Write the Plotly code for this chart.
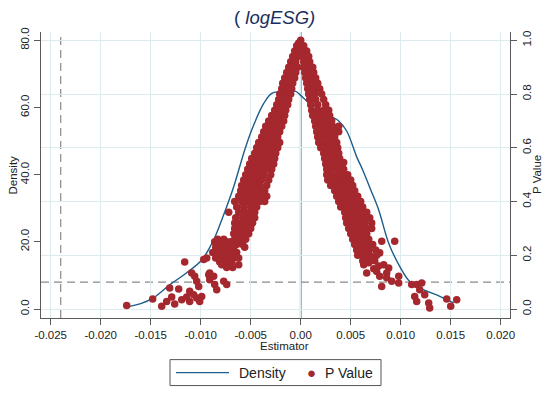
import plotly.graph_objects as go

# ---------------- data ----------------
dens_x = [-0.0171, -0.0160, -0.0147, -0.0131, -0.0114, -0.0099, -0.0087, -0.0079,
          -0.0067, -0.0057, -0.0049, -0.0037, -0.0029, -0.0021, -0.0012, -0.0005,
          0.0000, 0.0009, 0.0016, 0.0024, 0.0031, 0.0038, 0.0046, 0.0056, 0.0062,
          0.0070, 0.0078, 0.0088, 0.0099, 0.0109, 0.0123, 0.0136, 0.0146, 0.0153]
dens_y = [0.8, 1.6, 3.4, 7.2, 10.8, 14.6, 20.6, 26.5,
          36.4, 46.4, 53.3, 61.2, 64.2, 64.7, 64.9, 64.8,
          63.6, 61.2, 60.0, 58.5, 57.2, 56.0, 53.0, 45.3, 41.4,
          35.5, 29.5, 19.6, 12.7, 8.2, 5.7, 4.2, 2.8, 1.8]

# P value points, grouped by P level: (p, [estimates])
left_band = [
    (1.00, [0.0000]),
    (0.99, [-0.0002]),
    (0.98, [-0.0004, 0.0000]),
    (0.96, [-0.0006, -0.0002]),
    (0.94, [-0.0008, -0.0003]),
    (0.92, [-0.0010, -0.0005]),
    (0.90, [-0.0012, -0.0007, -0.0003]),
    (0.88, [-0.0014, -0.0009, -0.0005]),
    (0.86, [-0.0016, -0.0011, -0.0006]),
    (0.84, [-0.0018, -0.0013, -0.0008]),
    (0.82, [-0.0019, -0.0014, -0.0009]),
    (0.80, [-0.0021, -0.0016, -0.0010]),
    (0.78, [-0.0022, -0.0017, -0.0012]),
    (0.76, [-0.0024, -0.0019, -0.0013]),
    (0.74, [-0.0026, -0.0021, -0.0015]),
    (0.72, [-0.0029, -0.0024, -0.0019, -0.0016]),
    (0.70, [-0.0032, -0.0027, -0.0022, -0.0017]),
    (0.68, [-0.0035, -0.0030, -0.0025, -0.0019]),
    (0.66, [-0.0037, -0.0032, -0.0027, -0.0021]),
    (0.64, [-0.0039, -0.0034, -0.0029, -0.0023]),
    (0.62, [-0.0042, -0.0037, -0.0032, -0.0026, -0.0021]),
    (0.60, [-0.0044, -0.0039, -0.0034, -0.0028, -0.0023]),
    (0.58, [-0.0046, -0.0041, -0.0036, -0.0030, -0.0025]),
    (0.56, [-0.0049, -0.0043, -0.0037, -0.0031, -0.0026]),
    (0.54, [-0.0051, -0.0045, -0.0039, -0.0033, -0.0027]),
    (0.52, [-0.0053, -0.0047, -0.0041, -0.0035, -0.0029]),
    (0.50, [-0.0055, -0.0049, -0.0043, -0.0037, -0.0030]),
    (0.48, [-0.0057, -0.0051, -0.0045, -0.0039, -0.0032]),
    (0.46, [-0.0059, -0.0053, -0.0047, -0.0041, -0.0034]),
    (0.44, [-0.0060, -0.0054, -0.0048, -0.0042, -0.0036]),
    (0.42, [-0.0062, -0.0056, -0.0050, -0.0044, -0.0038, -0.0034]),
    (0.40, [-0.0066, -0.0059, -0.0053, -0.0047, -0.0041, -0.0036]),
    (0.38, [-0.0064, -0.0057, -0.0050, -0.0044]),
    (0.36, [-0.0072, -0.0062, -0.0056, -0.0051, -0.0046]),
    (0.34, [-0.0065, -0.0058, -0.0052, -0.0046]),
    (0.32, [-0.0066, -0.0060, -0.0054, -0.0048]),
    (0.30, [-0.0066, -0.0061, -0.0056, -0.0050]),
    (0.28, [-0.0067, -0.0062, -0.0057, -0.0052]),
    (0.26, [-0.0083, -0.0077, -0.0066, -0.0060, -0.0055]),
    (0.25, [-0.0086, -0.0080, -0.0074, -0.0070]),
    (0.24, [-0.0064, -0.0058]),
    (0.23, [-0.0085, -0.0079, -0.0073, -0.0067, -0.0056]),
    (0.21, [-0.0088, -0.0082, -0.0076, -0.0070, -0.0064]),
    (0.19, [-0.0094, -0.0085, -0.0079, -0.0073, -0.0067, -0.0062]),
    (0.184, [-0.0097]),
    (0.175, [-0.0116, -0.0081, -0.0075, -0.0069]),
    (0.165, [-0.0079, -0.0071, -0.0062]),
    (0.155, [-0.0074, -0.0068]),
]

right_band = [
    (0.98, [0.0003]),
    (0.96, [0.0001, 0.0006]),
    (0.94, [0.0002, 0.0008]),
    (0.92, [0.0003, 0.0009]),
    (0.90, [0.0003, 0.0008, 0.0012]),
    (0.88, [0.0004, 0.0009, 0.0013]),
    (0.86, [0.0005, 0.0010, 0.0015]),
    (0.84, [0.0006, 0.0011, 0.0017]),
    (0.82, [0.0007, 0.0013, 0.0019]),
    (0.80, [0.0008, 0.0014, 0.0021]),
    (0.78, [0.0009, 0.0015, 0.0023]),
    (0.76, [0.0010, 0.0017, 0.0025]),
    (0.74, [0.0011, 0.0017, 0.0023, 0.0028]),
    (0.72, [0.0012, 0.0018, 0.0024, 0.0029]),
    (0.70, [0.0014, 0.0020, 0.0026, 0.0031]),
    (0.68, [0.0015, 0.0021, 0.0027, 0.0032, 0.0038]),
    (0.66, [0.0016, 0.0022, 0.0028, 0.0033, 0.0038]),
    (0.64, [0.0017, 0.0023, 0.0029, 0.0034]),
    (0.62, [0.0018, 0.0024, 0.0030, 0.0036]),
    (0.60, [0.0020, 0.0026, 0.0032, 0.0037]),
    (0.58, [0.0023, 0.0028, 0.0033, 0.0038]),
    (0.56, [0.0024, 0.0029, 0.0034, 0.0039]),
    (0.545, [0.0043]),
    (0.54, [0.0025, 0.0030, 0.0035, 0.0040]),
    (0.52, [0.0026, 0.0031, 0.0037, 0.0043]),
    (0.50, [0.0026, 0.0031, 0.0037, 0.0042, 0.0047]),
    (0.48, [0.0027, 0.0033, 0.0039, 0.0045, 0.0050]),
    (0.46, [0.0030, 0.0036, 0.0041, 0.0047, 0.0052]),
    (0.44, [0.0034, 0.0039, 0.0044, 0.0049, 0.0054]),
    (0.42, [0.0036, 0.0041, 0.0047, 0.0052, 0.0057]),
    (0.40, [0.0038, 0.0043, 0.0049, 0.0055, 0.0060]),
    (0.38, [0.0040, 0.0046, 0.0051, 0.0057, 0.0062]),
    (0.36, [0.0044, 0.0049, 0.0055, 0.0060, 0.0066]),
    (0.34, [0.0045, 0.0051, 0.0057, 0.0063, 0.0069]),
    (0.32, [0.0046, 0.0052, 0.0058, 0.0064, 0.0071]),
    (0.30, [0.0048, 0.0054, 0.0060, 0.0066, 0.0071]),
    (0.28, [0.0050, 0.0056, 0.0061, 0.0066]),
    (0.26, [0.0052, 0.0058, 0.0063, 0.0068]),
    (0.252, [0.0081, 0.0094]),
    (0.24, [0.0054, 0.0060, 0.0066, 0.0072]),
    (0.22, [0.0056, 0.0062, 0.0068, 0.0075]),
    (0.209, [0.0079]),
    (0.20, [0.0057, 0.0063, 0.0069, 0.0076]),
    (0.18, [0.0062, 0.0068, 0.0074]),
]

tail_est = [-0.0174, -0.0148, -0.0139, -0.0131, -0.0122, -0.0134, -0.0129, -0.0126,
            -0.0119, -0.0114, -0.0111, -0.0109, -0.0106, -0.0104, -0.0102, -0.0107,
            -0.0104, -0.0111, -0.0099, -0.0101, -0.0092, -0.0091, -0.0087, -0.0086,
            -0.0084, -0.0091, -0.0077, -0.0074,
            0.0063, 0.0068, 0.0071, 0.0066, 0.0076, 0.0083, 0.0088, 0.0086,
            0.0079, 0.0081, 0.0091, 0.0098, 0.0098, 0.0086, 0.0111, 0.0116,
            0.0121, 0.0119, 0.0114, 0.0116, 0.0124, 0.0128, 0.0129, 0.0146,
            0.0156, 0.0150, 0.0073, 0.0078]
tail_p = [0.013, 0.037, 0.010, 0.078, 0.075, 0.028, 0.045, 0.019,
          0.035, 0.045, 0.066, 0.134, 0.122, 0.103, 0.084, 0.053,
          0.041, 0.028, 0.047, 0.028, 0.128, 0.109, 0.122, 0.091,
          0.072, 0.134, 0.103, 0.091,
          0.165, 0.172, 0.190, 0.134, 0.140, 0.165, 0.153, 0.134,
          0.122, 0.084, 0.103, 0.122, 0.097, 0.116, 0.091, 0.091,
          0.097, 0.072, 0.047, 0.028, 0.053, 0.022, 0.004, 0.037,
          0.035, 0.010, 0.150, 0.160]

x_ticks = [-0.025, -0.020, -0.015, -0.010, -0.005, 0.0, 0.005, 0.010, 0.015, 0.020]
x_ticktext = ["-0.025", "-0.020", "-0.015", "-0.010", "-0.005", "0.00",
              "0.005", "0.010", "0.015", "0.020"]
y_ticks = [0, 20, 40, 60, 80]
y_ticktext = ["0.0", "20.0", "40.0", "60.0", "80.0"]
p_ticks = [0.0, 0.2, 0.4, 0.6, 0.8, 1.0]
p_ticktext = ["0.0", "0.2", "0.4", "0.6", "0.8", "1.0"]

x_ref_line = -0.024
p_ref_line = 0.1

# ---------------- build ----------------
pv_est, pv_p = [], []
for p, ests in left_band + right_band:
    for e in ests:
        pv_est.append(e)
        pv_p.append(p)
pv_est += tail_est
pv_p += tail_p

FONT = "Liberation Sans, Arial, Helvetica, sans-serif"
RED = "#a5282e"
BLUE = "#1c5d8c"
AXC = "#5a5a5a"
GRID = "#dcebee"

# plot area in pixels
L, R, T, B = 41, 510, 31.7, 318.3
W, H = 550, 394


def px(x):
    return (x - L) / (R - L)


def py(y):
    return (B - y) / (B - T)


fig = go.Figure()
fig.add_trace(go.Scatter(x=dens_x, y=dens_y, mode="lines", yaxis="y",
                         line=dict(color=BLUE, width=1.4, shape="spline", smoothing=1.0),
                         name="Density", showlegend=False, hoverinfo="skip"))
fig.add_trace(go.Scatter(x=pv_est, y=pv_p, mode="markers", yaxis="y2",
                         marker=dict(color=RED, size=7.5, line=dict(width=0)),
                         name="P Value", showlegend=False))

ymin, ymax = -2.67, 82.47
fig.update_layout(
    width=W, height=H,
    margin=dict(l=L, r=W - R, t=T, b=H - B, pad=0, autoexpand=False),
    paper_bgcolor="white", plot_bgcolor="white",
    font=dict(family=FONT, size=11, color="#222"),
    xaxis=dict(range=[-0.02597, 0.02093], tickvals=x_ticks, ticktext=x_ticktext,
               showgrid=True, gridcolor=GRID, gridwidth=1, zeroline=False,
               showline=True, linecolor=AXC, linewidth=1.2, automargin=False,
               ticks="outside", ticklen=6, tickcolor=AXC, tickwidth=1.2,
               tickfont=dict(size=11.5, color="#222")),
    yaxis=dict(range=[ymin, ymax], tickvals=y_ticks, ticktext=y_ticktext,
               showgrid=False, zeroline=False, showline=True, linecolor=AXC,
               linewidth=1.2, ticks="outside", ticklen=6, tickcolor=AXC, tickwidth=1.2,
               tickangle=-90, tickfont=dict(size=11.5, color="#222"), automargin=False),
    yaxis2=dict(range=[ymin / 80, ymax / 80], tickvals=p_ticks, ticktext=p_ticktext,
                overlaying="y", side="right", showgrid=True, gridcolor=GRID, gridwidth=1,
                zeroline=False, showline=True, linecolor=AXC, linewidth=1.2,
                ticks="outside", ticklen=6, tickcolor=AXC, tickwidth=1.2, automargin=False,
                tickangle=-90, tickfont=dict(size=11.5, color="#222")),
)

shapes = [
    # zero line
    dict(type="line", xref="x", yref="paper", x0=0, x1=0, y0=0, y1=1,
         line=dict(color="#666666", width=1.6), layer="between"),
    # reference dashed lines
    dict(type="line", xref="x", yref="paper", x0=x_ref_line, x1=x_ref_line, y0=0, y1=1,
         line=dict(color="#8a8a8a", width=1.2, dash="8px,5px"), layer="between"),
    dict(type="line", xref="paper", yref="y2", x0=0, x1=1, y0=p_ref_line, y1=p_ref_line,
         line=dict(color="#8a8a8a", width=1.2, dash="8px,5px"), layer="between"),
    # legend box
    dict(type="rect", xref="paper", yref="paper", x0=px(170), x1=px(381),
         y0=py(386), y1=py(360), line=dict(color="#555", width=1), fillcolor="white"),
    dict(type="line", xref="paper", yref="paper", x0=px(176), x1=px(229),
         y0=py(373), y1=py(373), line=dict(color=BLUE, width=1.4)),
]
fig.update_layout(shapes=shapes)

ann = [
    dict(text="( <i>logESG)</i>", x=px(274), y=py(17), xref="paper", yref="paper",
         showarrow=False, xanchor="center", yanchor="middle",
         font=dict(size=18.5, color="#1a2f5e", family=FONT)),
    dict(text="Estimator", x=px(284), y=py(346), xref="paper", yref="paper",
         showarrow=False, xanchor="center", yanchor="middle", font=dict(size=11.5)),
    dict(text="Density", x=px(12.5), y=py(175), xref="paper", yref="paper",
         showarrow=False, textangle=-90, xanchor="center", yanchor="middle",
         font=dict(size=11.5)),
    dict(text="P Value", x=px(537), y=py(175), xref="paper", yref="paper",
         showarrow=False, textangle=-90, xanchor="center", yanchor="middle",
         font=dict(size=11.5)),
    dict(text="Density", x=px(237), y=py(373), xref="paper", yref="paper",
         showarrow=False, xanchor="left", yanchor="middle", font=dict(size=14)),
    dict(text="●", x=px(311.7), y=py(373), xref="paper", yref="paper",
         showarrow=False, xanchor="center", yanchor="middle",
         font=dict(size=15, color=RED)),
    dict(text="P Value", x=px(323), y=py(373), xref="paper", yref="paper",
         showarrow=False, xanchor="left", yanchor="middle", font=dict(size=14)),
]
fig.update_layout(annotations=ann)

fig.write_html("out.html", config={"displayModeBar": False},
               post_script="document.body.style.margin='0';document.body.style.overflow='hidden';")
